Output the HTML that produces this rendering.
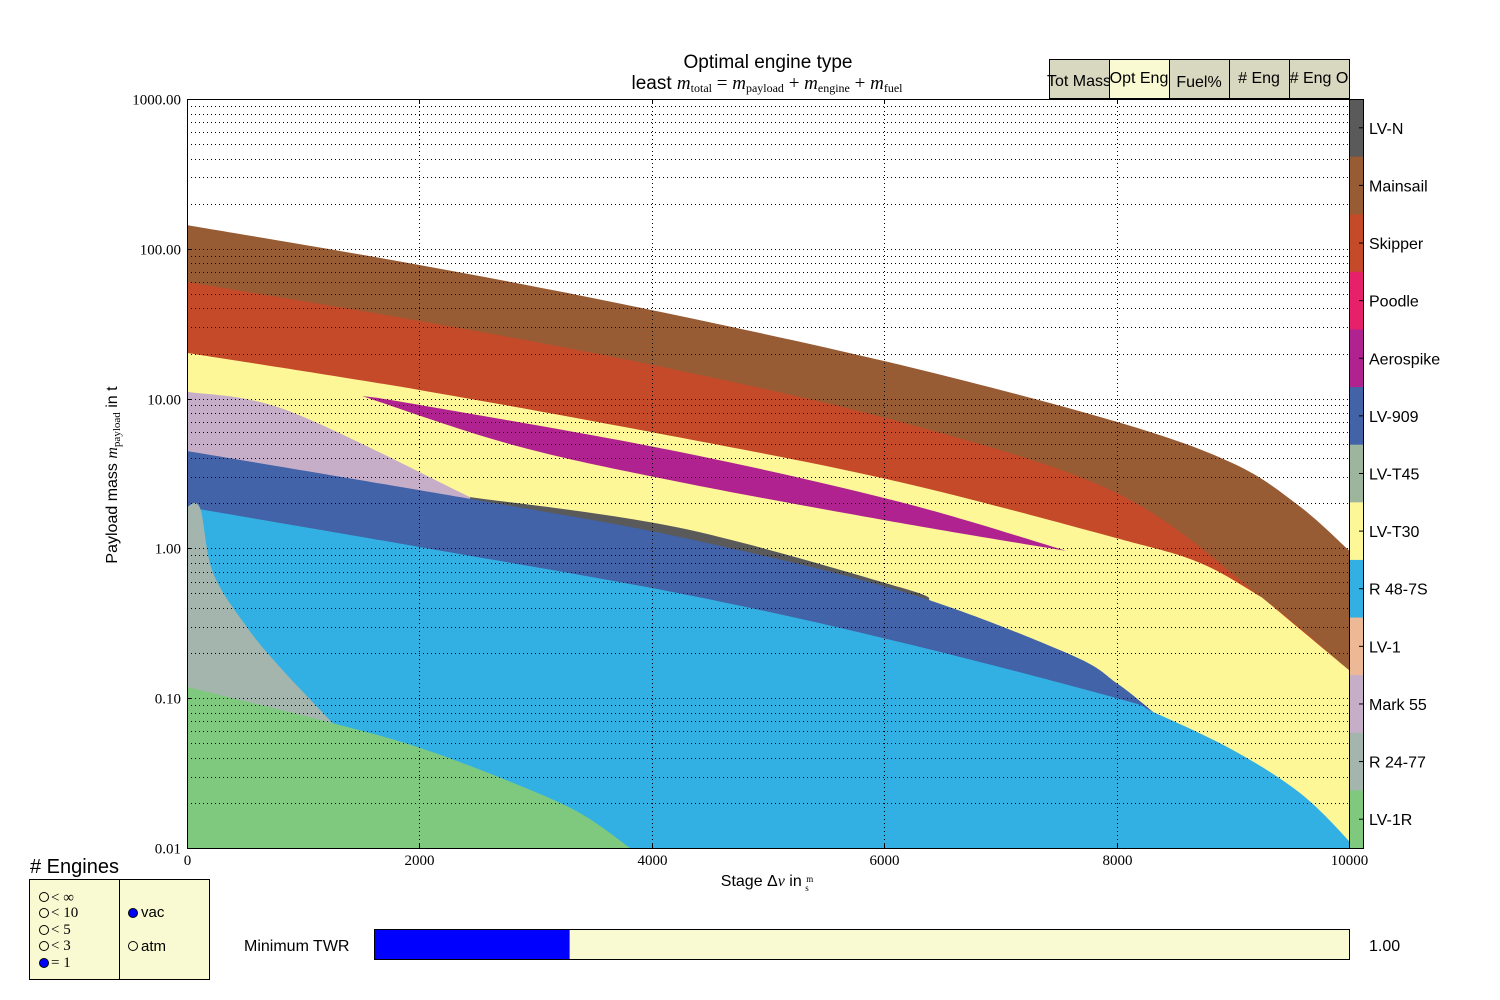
<!DOCTYPE html>
<html><head><meta charset="utf-8"><style>
html,body{margin:0;padding:0;background:#fff;}
svg{display:block;font-family:"Liberation Sans",sans-serif;}
.serif{font-family:"Liberation Serif",serif;}
</style></head><body>
<svg id="chart" width="1500" height="1000" viewBox="0 0 1500 1000" xmlns="http://www.w3.org/2000/svg">
<g id="fills"></g>
<g id="grid"></g>
<g id="axes"></g>
<text x="768" y="68" font-size="19" text-anchor="middle">Optimal engine type</text>
<text x="767" y="89" font-size="19" text-anchor="middle">least <tspan class="serif" font-style="italic">m</tspan><tspan class="serif" font-size="12" dy="3">total</tspan><tspan class="serif" dy="-3"> = </tspan><tspan class="serif" font-style="italic">m</tspan><tspan class="serif" font-size="12" dy="3">payload</tspan><tspan class="serif" dy="-3"> + </tspan><tspan class="serif" font-style="italic">m</tspan><tspan class="serif" font-size="12" dy="3">engine</tspan><tspan class="serif" dy="-3"> + </tspan><tspan class="serif" font-style="italic">m</tspan><tspan class="serif" font-size="12" dy="3">fuel</tspan></text>
<text x="767" y="886" font-size="16" text-anchor="middle">Stage Δ<tspan class="serif" font-style="italic">v</tspan> in <tspan class="serif" font-size="9" dy="-4">m</tspan><tspan class="serif" font-size="9" dx="-8" dy="9">s</tspan></text>
<text transform="translate(117,475) rotate(-90)" font-size="16" text-anchor="middle">Payload mass <tspan class="serif" font-style="italic">m</tspan><tspan class="serif" font-size="11" dy="3">payload</tspan><tspan dy="-3"> in t</tspan></text>
<g id="tabs"></g>
<g id="colorbar"></g>
<g>
<text x="30" y="873" font-size="20"># Engines</text>
<rect x="29.5" y="879.5" width="180" height="100" fill="#fafad2" stroke="#000"/>
<line x1="119.5" y1="879.5" x2="119.5" y2="979.5" stroke="#000"/>
<g font-size="15" class="serif">
<circle cx="44" cy="897" r="4.5" fill="none" stroke="#000"/><text x="51" y="902">&lt; ∞</text>
<circle cx="44" cy="913" r="4.5" fill="none" stroke="#000"/><text x="51" y="917">&lt; 10</text>
<circle cx="44" cy="930" r="4.5" fill="none" stroke="#000"/><text x="51" y="934">&lt; 5</text>
<circle cx="44" cy="946" r="4.5" fill="none" stroke="#000"/><text x="51" y="950">&lt; 3</text>
<circle cx="44" cy="963" r="4.5" fill="#0000ff" stroke="#000"/><text x="51" y="967">= 1</text>
</g>
<circle cx="133" cy="913" r="4.5" fill="#0000ff" stroke="#000"/><text x="141" y="917" font-size="15">vac</text>
<circle cx="133" cy="946" r="4.5" fill="none" stroke="#000"/><text x="141" y="951" font-size="15">atm</text>
</g>
<g>
<text x="244" y="951" font-size="16">Minimum TWR</text>
<rect x="374.5" y="929.5" width="975" height="30" fill="#fafad2" stroke="#000"/>
<rect x="375" y="930" width="194" height="29" fill="#0000ff"/>
<line x1="569.5" y1="930" x2="569.5" y2="959" stroke="#e04040"/>
<text x="1369" y="951" font-size="16">1.00</text>
</g>
</svg>
<script>
const NS='http://www.w3.org/2000/svg';
const X0=187,X1=1349,Y0=848,Y1=99;
const xMin=0,xMax=10000,lMin=-2,lMax=3;
function sx(v){return X0+(v-xMin)/(xMax-xMin)*(X1-X0);}
function sy(m){return Y0-(Math.log10(m)-lMin)/(lMax-lMin)*(Y0-Y1);}
// data: boundaries (dv in m/s, payload in t)
const mainsailTopDv=[0,2000,4000,6136,8000,9000,9578,10000];
const mainsailTopM=[144,78,39,16.8,7.0,3.7,1.9,0.97];
const mainsailBotDv=[0,2000,4000,6136,8003,9251,10000];
const mainsailBotM=[60,33,16.8,7.0,2.34,0.47,0.154];
const skipperBotDv=[0,2005,4243,6136,8003,8718,9251];
const skipperBotM=[20.2,11.4,5.5,2.77,1.17,0.80,0.47];
const aeroTopDv=[1506,2005,4243,6136,7573];
const aeroTopM=[10.4,9.06,4.4,2.04,0.96];
const aeroBotDv=[1506,2806,4243,6136,7573];
const aeroBotM=[10.4,4.9,2.77,1.48,0.96];
const mark55TopDv=[0,869,2435];
const mark55TopM=[11.1,8.3,2.2];
const lvnTopDv=[2435,4243,6136,6394];
const lvnTopM=[2.2,1.37,0.55,0.45];
const lv909TopDv=[0,2435,4243,6136,7573,8003,8313];
const lv909TopM=[4.47,2.14,1.19,0.52,0.20,0.126,0.081];
const r48TopDv=[0,2005,4243,6136,8003,8313,9002,9578,9991,10000];
const r48TopM=[1.89,1.02,0.50,0.237,0.100,0.081,0.045,0.0233,0.0113,0.01];
const r24TopDv=[0,112,224,516,800,1256];
const r24TopM=[1.89,1.86,0.686,0.298,0.161,0.068];
const lv1rTopDv=[0,1256,2005,2806,3382,3812];
const lv1rTopM=[0.119,0.068,0.0466,0.0272,0.0171,0.01];
const engineNames=['LV-N','Mainsail','Skipper','Poodle','Aerospike','LV-909','LV-T45','LV-T30','R 48-7S','LV-1','Mark 55','R 24-77','LV-1R'];
const engineColors=['#5a5a5a','#975c34','#c54a29','#e7206b','#b0228f','#4263a8','#9db59d','#fdf797','#33b0e3','#ecb896','#c6aec9','#a3b5ad','#7fc97f'];
const xTicks=[0,2000,4000,6000,8000,10000];
const yTicks=[0.01,0.1,1,10,100,1000];
const yTickLabels=['0.01','0.10','1.00','10.00','100.00','1000.00'];
const tabLabels=['Tot Mass','Opt Eng','Fuel%','# Eng','# Eng O'];

const fills=document.getElementById('fills');
function P(dv,m){return dv.map((d,i)=>[sx(d),sy(m[i])]);}
// smooth Catmull-Rom through pixel points; returns segment commands (without initial M)
function smooth(p){
  let s='';
  for(let i=0;i<p.length-1;i++){
    const p0=p[i-1]||p[i],p1=p[i],p2=p[i+1],p3=p[i+2]||p[i+1];
    const c1=[p1[0]+(p2[0]-p0[0])/6,p1[1]+(p2[1]-p0[1])/6];
    const c2=[p2[0]-(p3[0]-p1[0])/6,p2[1]-(p3[1]-p1[1])/6];
    s+=` C${c1[0].toFixed(1)},${c1[1].toFixed(1)} ${c2[0].toFixed(1)},${c2[1].toFixed(1)} ${p2[0].toFixed(1)},${p2[1].toFixed(1)}`;
  }
  return s;
}
function addPath(d,color,name){
  const el=document.createElementNS(NS,'path');
  el.setAttribute('d',d);el.setAttribute('fill',color);
  
  
  fills.appendChild(el);
}
function areaUnder(dv,m,color,name){
  const p=P(dv,m);
  const d=`M${p[0][0]},${p[0][1]}`+smooth(p)+` L${p[p.length-1][0]},${Y0} L${p[0][0]},${Y0} Z`;
  addPath(d,color,name);
}
function band(dvA,mA,dvB,mB,color,name){
  const a=P(dvA,mA),b=P(dvB,mB).reverse();
  const d=`M${a[0][0]},${a[0][1]}`+smooth(a)+` L${b[0][0]},${b[0][1]}`+smooth(b)+' Z';
  addPath(d,color,name);
}
const C=n=>engineColors[engineNames.indexOf(n)];
areaUnder(mainsailTopDv,mainsailTopM,C('Mainsail'),'region-mainsail');
areaUnder(mainsailBotDv,mainsailBotM,C('Skipper'),'region-skipper');
// yellow: skipper bottom then mainsail bottom beyond the meeting point
(function(){
  const a=P(skipperBotDv,skipperBotM);
  const meet=skipperBotDv[skipperBotDv.length-1];
  const bDv=[meet],bM=[skipperBotM[skipperBotM.length-1]];
  mainsailBotDv.forEach((d,i)=>{if(d>meet){bDv.push(d);bM.push(mainsailBotM[i]);}});
  const b=P(bDv,bM);
  const d=`M${a[0][0]},${a[0][1]}`+smooth(a)+smooth(b)+` L${b[b.length-1][0]},${Y0} L${a[0][0]},${Y0} Z`;
  addPath(d,C('LV-T30'),'region-lv-t30');
})();
band(aeroTopDv,aeroTopM,aeroBotDv,aeroBotM,C('Aerospike'),'region-aerospike');
areaUnder(mark55TopDv,mark55TopM,C('Mark 55'),'region-mark55');
areaUnder(lvnTopDv,lvnTopM,C('LV-N'),'region-lv-n');
areaUnder(lv909TopDv,lv909TopM,C('LV-909'),'region-lv-909');
areaUnder(r48TopDv,r48TopM,C('R 48-7S'),'region-r48-7s');
areaUnder(r24TopDv,r24TopM,C('R 24-77'),'region-r24-77');
areaUnder(lv1rTopDv,lv1rTopM,C('LV-1R'),'region-lv-1r');

const grid=document.getElementById('grid');
function line(g,x1,y1,x2,y2,attrs,name){
  const l=document.createElementNS(NS,'line');
  l.setAttribute('x1',x1);l.setAttribute('y1',y1);l.setAttribute('x2',x2);l.setAttribute('y2',y2);
  for(const k in attrs)l.setAttribute(k,attrs[k]);
  
  
  g.appendChild(l);return l;
}
const dot={stroke:'#000','stroke-width':1,'stroke-dasharray':'1,3'};
for(let e=lMin;e<lMax;e++){for(let k=1;k<=9;k++){const y=Math.round(sy(k*Math.pow(10,e)))+0.5;if(y>Y1+1&&y<Y0-1)line(grid,X0,y,X1,y,dot,'y-grid-line');}}
xTicks.forEach(t=>{const x=Math.round(sx(t))+0.5;if(x>X0+1&&x<X1-1)line(grid,x,Y1,x,Y0,dot,'x-grid-line');});

const axes=document.getElementById('axes');
const fr=document.createElementNS(NS,'rect');
fr.setAttribute('x',X0+0.5);fr.setAttribute('y',Y1+0.5);fr.setAttribute('width',X1-X0);fr.setAttribute('height',Y0-Y1);
fr.setAttribute('fill','none');fr.setAttribute('stroke','#000');


axes.appendChild(fr);
const tk={stroke:'#000','stroke-width':1};
xTicks.forEach(t=>{
  const x=Math.round(sx(t))+0.5;
  line(axes,x,Y0,x,Y0-5,tk,'x-tick');line(axes,x,Y1,x,Y1+5,tk,'x-tick');
  const tx=document.createElementNS(NS,'text');
  tx.setAttribute('x',x);tx.setAttribute('y',Y0+17);tx.setAttribute('font-size','15');tx.setAttribute('text-anchor','middle');tx.setAttribute('class','serif');
  tx.textContent=String(t);
  
  
  axes.appendChild(tx);
});
yTicks.forEach((t,i)=>{
  const y=Math.round(sy(t))+0.5;
  line(axes,X0,y,X0+5,y,tk,'y-tick');
  const tx=document.createElementNS(NS,'text');
  tx.setAttribute('x',X0-6);tx.setAttribute('y',y+5);tx.setAttribute('font-size','15');tx.setAttribute('text-anchor','end');tx.setAttribute('class','serif');
  tx.textContent=yTickLabels[i];
  
  
  axes.appendChild(tx);
});

const tabs=document.getElementById('tabs');
tabLabels.forEach((lab,i)=>{
  const x=1049+i*60;
  const r=document.createElementNS(NS,'rect');
  r.setAttribute('x',x+0.5);r.setAttribute('y',59.5);r.setAttribute('width',60);r.setAttribute('height',39);
  r.setAttribute('fill',i===1?'#fafad2':'#d8d8c0');r.setAttribute('stroke','#000');
  
  
  tabs.appendChild(r);
  const t=document.createElementNS(NS,'text');
  t.setAttribute('x',x+30);t.setAttribute('y',[86,83,87,83,83][i]);t.setAttribute('font-size','16');t.setAttribute('text-anchor','middle');
  t.textContent=lab;
  
  
  tabs.appendChild(t);
});

const cb=document.getElementById('colorbar');
const h=(Y0-Y1)/engineNames.length;
engineNames.forEach((n,i)=>{
  const r=document.createElementNS(NS,'rect');
  r.setAttribute('x',1349);r.setAttribute('y',(Y1+i*h).toFixed(2));r.setAttribute('width',15);r.setAttribute('height',(h+0.5).toFixed(2));
  r.setAttribute('fill',engineColors[i]);
  
  
  cb.appendChild(r);
  const cy=Y1+(i+0.5)*h;
  line(cb,1359,cy,1364,cy,tk,'colorbar-tick');
  const t=document.createElementNS(NS,'text');
  t.setAttribute('x',1369);t.setAttribute('y',(cy+6).toFixed(1));t.setAttribute('font-size','16');
  t.textContent=n;
  
  
  cb.appendChild(t);
});
const cf=document.createElementNS(NS,'rect');
cf.setAttribute('x',1349.5);cf.setAttribute('y',Y1+0.5);cf.setAttribute('width',14);cf.setAttribute('height',Y0-Y1);
cf.setAttribute('fill','none');cf.setAttribute('stroke','#000');


cb.appendChild(cf);
</script>
</body></html>
